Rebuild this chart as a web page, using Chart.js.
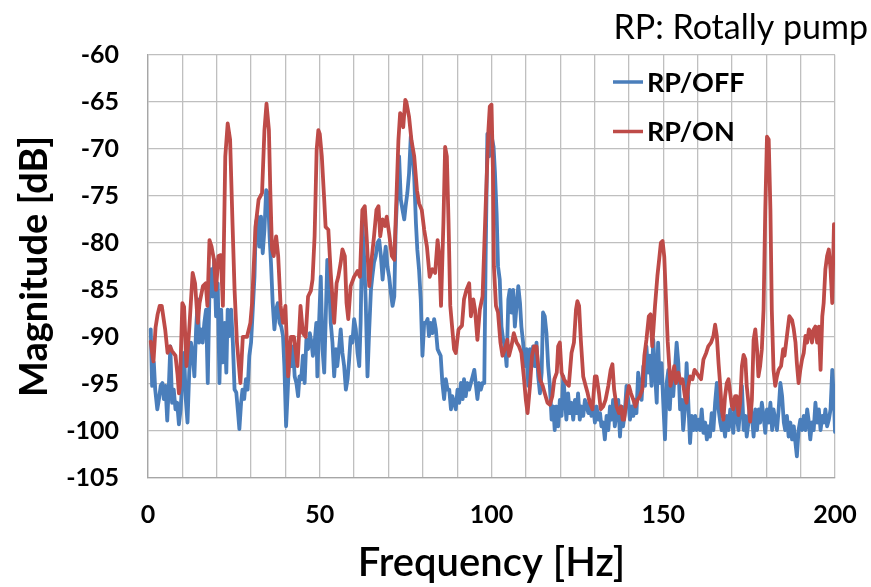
<!DOCTYPE html>
<html>
<head>
<meta charset="utf-8">
<script src="https://cdn.jsdelivr.net/npm/chart.js@4.4.1/dist/chart.umd.min.js"></script>
<style>
  html, body { margin: 0; padding: 0; background: #fff; }
</style>
</head>
<body>
<canvas id="spectrum" width="871" height="587"></canvas>
<script>
// series names / colours
const seriesNames = ['RP/OFF', 'RP/ON'];
const seriesColors = ['#4a7ebb', '#be4b48'];
const noteText = 'RP: Rotally pump';

// axis limits
const xMin = 0, xMax = 200, xStep = 10, xLabelEvery = 50;
const yMin = -105, yMax = -60, yStep = 5;

// RP/OFF
const offHz = [
  0.8,1.2,1.7,2.1,2.7,3.2,3.7,4.2,4.6,5.1,5.6,6.1,6.5,7.0,7.5,8.0,8.5,9.0,9.5,
  10.1,10.5,11.0,11.5,12.0,12.5,13.0,13.5,14.0,14.5,14.9,15.4,15.9,16.4,16.9,17.4,17.9,18.4,18.8,19.3,19.8,
  20.3,20.8,21.3,21.8,22.3,22.8,23.2,23.7,24.2,24.7,25.2,25.7,26.2,26.6,27.1,27.5,28.0,28.5,29.0,29.5,
  30.0,30.5,31.0,31.4,31.9,32.4,32.9,33.4,33.9,34.4,34.9,35.4,35.8,36.3,36.8,37.3,37.8,38.3,38.8,39.3,39.7,
  40.2,40.7,41.2,41.7,42.2,42.7,43.2,43.7,44.1,44.6,45.1,45.6,46.1,46.6,47.1,47.6,48.0,48.5,49.0,49.3,49.8,
  50.3,50.8,51.3,51.7,52.2,52.7,53.2,53.7,54.2,54.7,55.1,55.6,56.1,56.6,57.1,57.6,58.1,58.5,59.0,59.5,
  60.0,60.5,61.0,61.5,61.9,62.4,62.9,63.4,63.9,64.4,64.9,65.3,65.8,66.3,66.8,67.3,67.8,68.3,68.7,69.2,69.7,
  70.2,70.7,71.2,71.7,72.1,72.6,73.1,73.6,74.1,74.6,75.0,75.5,76.0,76.5,77.0,77.5,78.0,78.4,78.9,79.4,79.9,
  80.4,80.9,81.4,81.8,82.3,82.8,83.3,83.8,84.3,84.8,85.2,85.7,86.2,86.7,87.2,87.7,88.2,88.6,89.1,89.6,
  90.1,90.6,91.1,91.6,92.0,92.5,93.0,93.5,94.0,94.5,95.0,95.4,95.9,96.4,96.9,97.4,97.9,98.3,98.8,99.3,99.7,
  100.2,100.6,101.0,101.5,101.9,102.4,102.9,103.4,103.9,104.4,104.9,105.3,105.8,106.3,106.8,107.3,107.8,108.3,108.7,109.2,109.7,
  110.2,110.7,111.2,111.7,112.1,112.6,113.1,113.6,114.1,114.6,115.0,115.5,116.0,116.5,117.0,117.5,118.0,118.4,118.9,119.4,119.9,
  120.4,120.9,121.4,121.8,122.3,122.8,123.3,123.8,124.3,124.8,125.2,125.7,126.2,126.7,127.2,127.7,128.2,128.6,129.1,129.6,
  130.1,130.6,131.1,131.6,132.0,132.5,133.0,133.5,134.0,134.5,135.0,135.4,135.9,136.4,136.9,137.4,137.9,138.3,138.8,139.3,139.8,
  140.3,140.8,141.3,141.7,142.2,142.7,143.2,143.7,144.2,144.7,145.1,145.6,146.1,146.6,147.1,147.6,148.1,148.5,149.0,149.5,
  150.0,150.5,151.0,151.5,151.9,152.4,152.9,153.4,153.9,154.4,154.9,155.4,155.8,156.3,156.8,157.3,157.8,158.3,158.8,159.3,159.7,
  160.2,160.7,161.2,161.7,162.2,162.7,163.1,163.6,164.1,164.6,165.1,165.6,166.1,166.6,167.0,167.5,168.0,168.5,169.0,169.5,
  170.0,170.4,170.9,171.4,171.9,172.4,172.9,173.4,173.9,174.3,174.8,175.3,175.8,176.3,176.8,177.3,177.8,178.2,178.7,179.2,179.7,
  180.2,180.7,181.2,181.7,182.1,182.6,183.1,183.6,184.1,184.6,185.1,185.5,186.0,186.5,187.0,187.5,188.0,188.5,188.9,189.4,189.9,
  190.4,190.9,191.4,191.9,192.4,192.8,193.3,193.8,194.3,194.8,195.3,195.8,196.3,196.8,197.2,197.7,198.2,198.7,199.2,199.7,200.0
];
const offDb = [
  -89.2,-95.2,-92.7,-95.6,-97.7,-96.6,-95.2,-94.9,-96.6,-95.2,-98.9,-94.9,-91.0,-97.0,-95.6,-97.7,-97.0,-99.3,-97.7,
  -93.8,-91.7,-96.6,-99.1,-93.8,-90.6,-91.7,-94.2,-89.2,-86.0,-90.6,-89.2,-90.6,-88.5,-87.1,-94.9,-85.0,-82.8,-85.7,-81.8,-87.8,
  -84.3,-94.9,-87.1,-92.7,-88.5,-93.8,-87.1,-89.9,-87.1,-90.6,-95.6,-95.9,-98.0,-99.8,-97.0,-95.6,-96.6,-94.5,-95.6,-92.0,
  -90.6,-87.1,-83.6,-77.9,-77.2,-80.4,-77.2,-81.1,-78.6,-74.4,-74.7,-79.3,-82.1,-86.4,-89.2,-87.1,-86.4,-88.5,-88.9,-89.9,-93.1,
  -99.5,-95.6,-91.3,-93.1,-91.0,-94.2,-94.9,-96.3,-94.2,-94.5,-92.0,-94.9,-90.3,-91.3,-89.6,-90.6,-92.0,-90.6,-88.5,-94.2,-88.5,
  -83.6,-91.3,-93.8,-88.5,-81.8,-83.6,-88.5,-90.6,-94.2,-91.3,-93.1,-91.3,-89.2,-91.7,-93.1,-95.6,-94.5,-92.7,-90.0,-90.6,
  -88.1,-89.2,-91.7,-93.1,-88.5,-77.9,-81.4,-86.4,-94.2,-89.2,-85.0,-83.6,-82.1,-81.4,-80.0,-79.7,-81.4,-83.9,-82.1,-80.4,-82.5,
  -83.6,-85.3,-86.7,-85.7,-78.6,-74.4,-70.8,-75.4,-76.5,-77.5,-76.1,-74.7,-72.6,-68.7,-70.5,-73.0,-77.9,-80.7,-82.8,-86.0,-92.0,
  -88.5,-88.5,-88.1,-89.9,-88.5,-89.6,-88.1,-89.2,-91.3,-91.7,-92.0,-94.9,-96.6,-94.5,-95.6,-95.6,-97.7,-96.3,-97.0,-97.7,
  -95.6,-97.0,-94.9,-96.6,-94.5,-96.3,-94.9,-95.6,-94.9,-94.2,-93.5,-94.9,-96.6,-94.9,-95.6,-94.9,-94.9,-81.4,-68.4,-70.8,-68.5,
  -69.0,-69.8,-72.5,-77.0,-82.5,-83.9,-88.9,-90.3,-91.0,-93.1,-86.0,-85.0,-87.4,-85.0,-88.9,-86.7,-84.6,-86.4,-88.9,-90.6,-93.1,
  -91.3,-95.2,-91.3,-93.1,-91.0,-93.1,-90.6,-94.2,-96.0,-93.8,-87.4,-87.8,-89.6,-93.1,-95.2,-98.8,-97.4,-99.9,-97.4,-99.5,-96.7,
  -98.4,-94.2,-96.7,-98.8,-96.0,-98.1,-97.0,-98.8,-96.7,-98.1,-96.0,-98.8,-97.4,-98.4,-96.7,-97.4,-98.1,-96.7,-98.4,-97.4,
  -99.1,-97.4,-98.8,-98.1,-99.5,-99.1,-100.9,-98.4,-99.9,-97.4,-98.8,-96.7,-99.5,-98.1,-96.7,-100.6,-97.4,-99.5,-98.1,-95.2,-96.7,
  -98.8,-97.4,-98.4,-96.7,-98.1,-93.8,-95.2,-96.7,-93.1,-95.2,-91.0,-93.8,-92.0,-95.2,-90.3,-93.8,-97.0,-90.6,-94.9,-92.8,
  -97.0,-100.9,-94.9,-93.5,-97.7,-94.2,-96.3,-93.5,-90.6,-92.8,-97.7,-96.7,-99.9,-97.7,-92.8,-97.0,-101.3,-98.4,-99.9,-98.4,-99.9,
  -98.8,-99.9,-97.7,-100.2,-99.1,-100.9,-99.5,-100.6,-98.1,-99.9,-97.0,-94.9,-97.7,-99.1,-99.9,-99.1,-100.6,-98.4,-99.9,-97.7,
  -99.1,-100.2,-97.0,-98.4,-99.9,-97.7,-95.2,-99.9,-98.4,-100.6,-99.1,-97.0,-98.4,-100.6,-97.7,-99.9,-97.7,-99.1,-97.0,-98.4,-100.2,
  -97.7,-99.1,-97.0,-99.9,-97.7,-98.8,-99.9,-97.7,-94.9,-96.3,-99.1,-99.9,-98.4,-100.6,-99.1,-100.9,-99.5,-101.3,-102.7,-99.9,-98.8,
  -99.9,-98.4,-99.9,-97.7,-99.1,-100.9,-99.1,-99.9,-97.0,-99.1,-97.7,-99.9,-98.4,-99.1,-97.7,-99.5,-98.8,-97.7,-93.5,-96.7,-100.1
];

// RP/ON
const onHz = [
  0.8,1.2,1.6,2.2,2.8,3.4,4.0,5.0,5.7,6.4,7.0,8.0,8.6,9.0,9.3,
  10.0,10.5,11.2,12.0,13.0,13.7,14.5,15.0,16.0,16.8,17.3,17.9,18.5,19.2,19.8,
  20.5,21.2,21.8,22.5,23.2,23.9,24.6,25.2,25.9,26.9,27.6,28.8,29.8,
  30.3,31.3,32.2,33.2,33.9,34.5,35.2,35.6,36.1,36.6,37.3,37.9,38.6,39.3,
  40.0,40.8,41.6,42.5,43.5,44.4,45.1,45.9,46.6,47.4,47.9,48.5,49.1,49.6,
  50.0,50.6,51.3,51.7,52.5,53.2,54.2,54.9,55.4,56.1,56.6,57.3,57.8,58.3,59.0,
  60.0,61.0,61.7,62.4,63.1,63.7,64.4,65.0,65.8,66.5,67.1,67.6,68.3,69.0,69.5,
  70.2,71.0,71.7,72.4,72.9,73.4,73.9,74.3,74.9,75.2,76.0,76.7,77.5,78.3,78.9,79.7,
  80.4,81.2,82.0,82.8,83.6,84.3,84.8,85.3,86.0,86.5,87.0,87.5,88.0,88.6,89.1,89.6,
  90.4,91.4,92.0,92.7,93.5,94.0,94.7,95.2,95.9,96.6,97.4,98.3,99.1,99.5,
  100.0,100.4,100.7,101.3,101.9,102.6,103.2,103.9,104.6,105.1,105.8,106.5,107.3,108.0,108.7,109.4,
  110.0,110.5,111.2,111.8,112.4,113.1,113.6,114.1,114.9,115.5,116.3,117.0,117.7,118.3,119.0,119.4,119.9,
  120.4,121.1,121.8,122.5,123.3,124.0,124.6,125.0,125.5,126.0,126.7,127.4,128.0,128.6,129.4,
  130.1,130.6,131.3,131.8,132.5,133.2,134.0,134.7,135.2,135.7,136.4,137.1,137.7,138.2,138.6,139.3,
  140.0,140.6,141.3,141.9,142.5,143.2,143.9,144.5,145.1,145.8,146.3,146.8,147.6,148.3,148.8,149.3,149.8,
  150.3,150.8,151.3,151.7,152.1,152.7,153.2,153.7,154.4,155.1,155.6,156.3,156.8,157.3,157.8,158.5,159.1,159.7,
  160.4,161.0,161.7,162.5,163.1,163.9,164.6,165.1,165.6,166.1,166.6,167.0,167.5,168.0,168.5,169.0,169.5,
  170.0,170.4,170.9,171.4,171.9,172.4,172.9,173.4,173.9,174.3,174.8,175.3,175.8,176.3,176.8,177.3,177.7,178.2,178.7,179.2,179.7,
  180.2,180.7,181.2,181.6,182.1,182.6,183.1,183.6,184.3,184.9,185.3,186.0,186.7,187.5,188.0,188.5,188.9,189.4,189.9,
  190.4,190.9,191.4,191.9,192.4,192.8,193.3,193.8,194.3,194.8,195.3,195.8,196.3,196.7,197.2,197.7,198.2,198.7,199.2,199.7,200.0
];
const onDb = [
  -90.5,-91.7,-92.6,-89.0,-87.6,-86.7,-86.7,-89.2,-91.7,-91.0,-91.5,-92.0,-94.0,-96.0,-95.2,
  -86.4,-86.8,-93.1,-89.2,-83.2,-84.3,-88.5,-86.4,-84.6,-84.3,-86.7,-79.7,-80.4,-81.8,-85.0,
  -81.4,-81.3,-86.7,-70.8,-67.3,-69.0,-77.9,-85.0,-90.6,-94.9,-90.0,-90.0,-88.5,
  -86.4,-78.3,-75.4,-74.7,-68.0,-65.2,-68.0,-74.4,-80.7,-81.4,-79.3,-81.4,-86.7,-88.5,
  -86.7,-94.2,-90.0,-90.0,-93.1,-86.7,-89.6,-90.0,-85.7,-85.1,-83.9,-79.3,-70.1,-68.0,
  -68.4,-70.8,-75.4,-78.3,-78.6,-83.2,-88.5,-84.3,-83.6,-82.1,-80.7,-81.4,-86.4,-88.1,-84.6,
  -83.6,-83.0,-83.6,-76.5,-76.1,-79.7,-84.6,-82.1,-79.3,-76.5,-76.1,-79.3,-77.5,-78.2,-77.2,
  -79.0,-81.4,-81.8,-74.4,-69.1,-66.2,-66.6,-67.7,-64.8,-65.0,-66.6,-69.1,-70.8,-74.4,-75.8,-76.5,
  -78.6,-80.4,-83.6,-82.8,-83.2,-79.7,-81.4,-86.7,-77.9,-69.8,-70.8,-77.9,-86.7,-89.2,-91.3,-91.7,
  -89.2,-88.8,-86.0,-85.0,-84.3,-87.8,-86.0,-87.1,-90.3,-87.1,-85.7,-76.1,-68.0,-65.5,
  -65.3,-72.0,-82.5,-86.7,-87.4,-90.6,-92.0,-91.3,-90.3,-92.0,-91.0,-89.6,-90.6,-91.0,-91.7,-94.2,
  -96.7,-98.1,-95.2,-92.0,-91.0,-91.0,-93.1,-94.5,-95.2,-96.0,-97.0,-97.2,-96.3,-94.5,-93.8,-91.0,-90.6,
  -93.8,-94.5,-94.9,-95.2,-91.7,-90.6,-87.1,-86.2,-86.7,-90.3,-94.2,-95.2,-96.0,-97.0,-97.7,
  -94.2,-94.2,-96.0,-97.7,-97.4,-96.7,-95.2,-93.5,-92.9,-95.6,-97.4,-98.1,-97.4,-98.8,-98.8,-96.7,
  -95.2,-96.0,-96.7,-97.4,-96.7,-96.3,-95.6,-92.0,-90.3,-87.8,-87.6,-91.0,-86.7,-83.5,-81.8,-80.0,-79.8,
  -81.5,-86.0,-90.5,-92.8,-95.2,-94.2,-93.1,-94.9,-93.8,-94.9,-94.5,-96.3,-97.0,-95.2,-94.2,-94.5,-93.5,-93.8,
  -94.2,-94.5,-92.4,-91.7,-91.0,-90.6,-89.9,-88.7,-89.9,-92.8,-95.2,-97.7,-98.8,-96.3,-94.9,-94.5,-96.0,
  -97.4,-97.7,-96.3,-96.3,-98.3,-97.0,-93.1,-91.9,-92.4,-95.2,-97.0,-99.0,-96.7,-90.3,-89.2,-91.3,-94.2,-93.1,-91.3,-87.1,-76.5,
  -68.7,-69.0,-76.5,-87.1,-93.5,-95.2,-94.2,-93.5,-93.1,-91.3,-92.0,-89.9,-87.8,-88.2,-89.2,-90.6,-92.8,-94.9,-93.5,
  -92.4,-91.7,-89.9,-90.6,-89.2,-89.4,-90.6,-89.2,-88.9,-90.6,-88.9,-93.5,-87.8,-86.4,-82.8,-81.4,-80.7,-82.8,-86.4,-78.0,-81.0
];

const toPoints = (xs, ys) => xs.map((x, i) => ({ x, y: ys[i] }));

// legend drawn inside the plot, top right
const insideLegend = {
    id: 'insideLegend',
    afterDraw(chart) {
        const ctx = chart.ctx;
        ctx.save();
        ctx.font = 'bold 27px Lato';
        ctx.textBaseline = 'middle';
        ctx.textAlign = 'left';
        chart.data.datasets.forEach((ds, i) => {
            const y = 82 + i * 49.5;
            ctx.strokeStyle = ds.borderColor;
            ctx.lineWidth = 3.5;
            ctx.beginPath();
            ctx.moveTo(613, y);
            ctx.lineTo(643, y);
            ctx.stroke();
            ctx.fillStyle = '#000';
            ctx.fillText(ds.label, 647, y + 1);
        });
        ctx.restore();
    }
};

const gridColor = '#bfbfbf';

const lineStyle = {
    borderWidth: 3.8,
    borderJoinStyle: 'round',
    borderCapStyle: 'round',
    pointRadius: 0,
    tension: 0,
    fill: false
};

new Chart(document.getElementById('spectrum'), {
    type: 'line',
    data: {
        datasets: [
            Object.assign({
                label: seriesNames[0],
                data: toPoints(offHz, offDb),
                borderColor: seriesColors[0],
                order: 2
            }, lineStyle),
            Object.assign({
                label: seriesNames[1],
                data: toPoints(onHz, onDb),
                borderColor: seriesColors[1],
                order: 1
            }, lineStyle)
        ]
    },
    options: {
        responsive: false,
        animation: false,
        layout: { padding: { left: 0, right: 3, top: 0, bottom: 0 } },
        plugins: {
            legend: { display: false },
            tooltip: { enabled: false },
            title: {
                display: true,
                text: noteText,
                align: 'end',
                color: '#000',
                font: { family: 'Lato', size: 34, weight: 'normal' },
                padding: { top: 8, bottom: 6 }
            }
        },
        scales: {
            x: {
                type: 'linear',
                min: xMin,
                max: xMax,
                afterFit: s => { s.height = 109; s.paddingRight = 36; },
                grid: { color: gridColor, lineWidth: 1.3, drawTicks: false },
                border: { color: '#a6a6a6', width: 1.3 },
                ticks: {
                    stepSize: xStep,
                    autoSkip: false,
                    maxRotation: 0,
                    padding: 22,
                    color: '#000',
                    font: { family: 'Lato', size: 25, weight: 'bold' },
                    callback: v => (v % xLabelEvery === 0 ? v : '')
                },
                title: {
                    display: true,
                    text: 'Frequency [Hz]',
                    color: '#000',
                    font: { family: 'Lato', size: 40, weight: '600' },
                    padding: { top: 0, bottom: 0 }
                }
            },
            y: {
                min: yMin,
                max: yMax,
                afterFit: s => { s.width = 148; },
                grid: { color: gridColor, lineWidth: 1.3, drawTicks: false },
                border: { color: '#a6a6a6', width: 1.3 },
                ticks: {
                    stepSize: yStep,
                    padding: 29,
                    color: '#000',
                    font: { family: 'Lato', size: 25, weight: 'bold' }
                },
                title: {
                    display: true,
                    text: 'Magnitude [dB]',
                    color: '#000',
                    font: { family: 'Lato', size: 38, weight: 'bold' },
                    padding: { top: 12, bottom: 0 }
                }
            }
        }
    },
    plugins: [insideLegend]
});
</script>
</body>
</html>
